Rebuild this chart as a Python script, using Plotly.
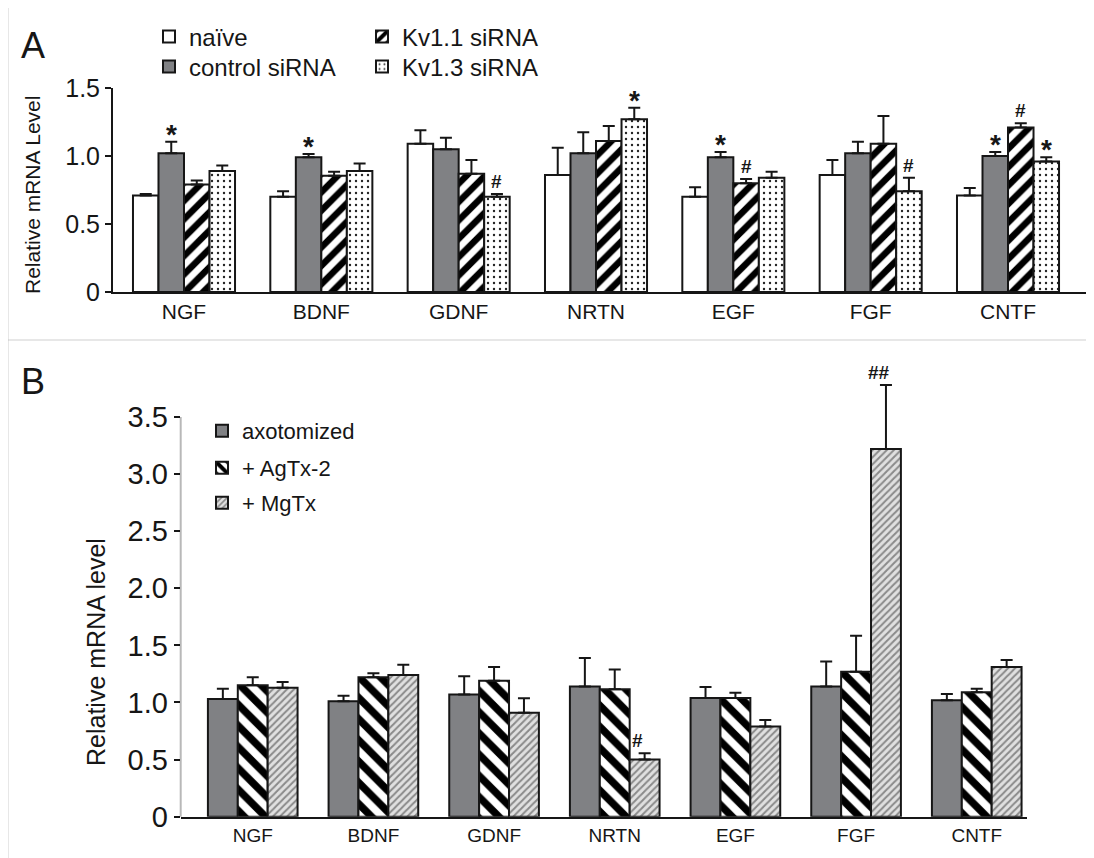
import plotly.graph_objects as go

W, H = 1094, 858
OFF = 8  # page body margin of the browser
FONT = "Liberation Sans, Arial, Helvetica, sans-serif"

categories = ["NGF", "BDNF", "GDNF", "NRTN", "EGF", "FGF", "CNTF"]

# Panel A values (mean) and upper error (SEM)
a_naive = [0.71, 0.70, 1.09, 0.86, 0.70, 0.86, 0.71]
a_naive_err = [0.01, 0.04, 0.10, 0.20, 0.07, 0.11, 0.055]
a_control = [1.02, 0.99, 1.05, 1.02, 0.99, 1.02, 1.00]
a_control_err = [0.085, 0.025, 0.085, 0.155, 0.04, 0.085, 0.03]
a_kv11 = [0.79, 0.855, 0.87, 1.11, 0.80, 1.09, 1.21]
a_kv11_err = [0.03, 0.03, 0.10, 0.11, 0.03, 0.205, 0.03]
a_kv13 = [0.89, 0.89, 0.70, 1.27, 0.84, 0.74, 0.96]
a_kv13_err = [0.04, 0.055, 0.02, 0.085, 0.045, 0.10, 0.03]

a_control_sig = ["*", "*", "", "", "*", "", "*"]
a_kv11_sig = ["", "", "", "", "#", "", "#"]
a_kv13_sig = ["", "", "#", "*", "", "#", "*"]

a_ticks = [0, 0.5, 1.0, 1.5]
a_ticktext = ["0", "0.5", "1.0", "1.5"]

# Panel B values
b_axot = [1.03, 1.01, 1.07, 1.14, 1.04, 1.14, 1.02]
b_axot_err = [0.09, 0.05, 0.16, 0.25, 0.095, 0.22, 0.055]
b_agtx = [1.15, 1.22, 1.19, 1.115, 1.04, 1.27, 1.09]
b_agtx_err = [0.07, 0.035, 0.12, 0.175, 0.046, 0.315, 0.03]
b_mgtx = [1.13, 1.24, 0.91, 0.50, 0.79, 3.22, 1.31]
b_mgtx_err = [0.05, 0.09, 0.127, 0.055, 0.056, 0.56, 0.062]

b_mgtx_sig = ["", "", "", "#", "", "##", ""]

b_ticks = [0, 0.5, 1.0, 1.5, 2.0, 2.5, 3.0, 3.5]
b_ticktext = ["0", "0.5", "1.0", "1.5", "2.0", "2.5", "3.0", "3.5"]

GRAY = "#808184"
INK = "#161616"
xpos = list(range(len(categories)))


def px(x):
    return (x - OFF) / W


def py(y):
    return 1 - (y - OFF) / H


def err(arr):
    return dict(type="data", symmetric=False, array=arr, arrayminus=[0] * len(arr),
                color=INK, thickness=2, width=6)


fig = go.Figure()

# ---- Panel A ----
a_series = [
    ("naïve", a_naive, a_naive_err, dict(color="white"), "legend"),
    ("control siRNA", a_control, a_control_err, dict(color=GRAY), "legend2"),
    ("Kv1.1 siRNA", a_kv11, a_kv11_err,
     dict(color="white", pattern=dict(shape="/", fgcolor="black", bgcolor="white", size=13,
                                      solidity=0.5, fgopacity=1)), "legend3"),
    ("Kv1.3 siRNA", a_kv13, a_kv13_err,
     dict(color="white", pattern=dict(shape=".", fgcolor="#222", bgcolor="white", size=6,
                                      solidity=0.12, fgopacity=1)), "legend4"),
]
for name, vals, e, mk, lg in a_series:
    mk = dict(mk)
    mk["line"] = dict(color=INK, width=2)
    fig.add_trace(go.Bar(x=xpos, y=vals, name=name, marker=mk, error_y=err(e),
                         xaxis="x", yaxis="y", legend=lg, showlegend=True))

# ---- Panel B ----
b_series = [
    ("axotomized", b_axot, b_axot_err, dict(color=GRAY), "legend5"),
    ("+ AgTx-2", b_agtx, b_agtx_err,
     dict(color="white", pattern=dict(shape="\\", fgcolor="black", bgcolor="white", size=15,
                                      solidity=0.5, fgopacity=1)), "legend6"),
    ("+ MgTx", b_mgtx, b_mgtx_err,
     dict(color="#d4d4d4", pattern=dict(shape="/", fgcolor="#8a8a8a", bgcolor="#e0e0e0", size=5,
                                        solidity=0.4, fgopacity=1)), "legend7"),
]
for name, vals, e, mk, lg in b_series:
    mk = dict(mk)
    mk["line"] = dict(color=INK, width=2)
    fig.add_trace(go.Bar(x=xpos, y=vals, name=name, marker=mk, error_y=err(e),
                         xaxis="x2", yaxis="y2", legend=lg, offsetgroup=name,
                         showlegend=True))

A_GAP = 0.257
B_GAP = 0.437

annotations = []


def add_sigs(vals, errs, sigs, k, n, gap, xr, yr):
    bw = (1 - gap) / n
    for j, s in enumerate(sigs):
        if s:
            star = s == "*"
            annotations.append(dict(
                x=j + (k - (n - 1) / 2) * bw, y=vals[j] + errs[j], xref=xr, yref=yr,
                text="<b>%s</b>" % s, showarrow=False, xanchor="center", yanchor="bottom",
                yshift=-10 if star else 0,
                font=dict(family=FONT, size=28 if star else 19, color=INK)))


add_sigs(a_control, a_control_err, a_control_sig, 1, 4, A_GAP, "x", "y")
add_sigs(a_kv11, a_kv11_err, a_kv11_sig, 2, 4, A_GAP, "x", "y")
add_sigs(a_kv13, a_kv13_err, a_kv13_sig, 3, 4, A_GAP, "x", "y")
add_sigs(b_mgtx, b_mgtx_err, b_mgtx_sig, 2, 3, B_GAP, "x2", "y2")

annotations += [
    dict(x=px(33), y=py(45), xref="paper", yref="paper", text="A", showarrow=False,
         xanchor="center", yanchor="middle", font=dict(family=FONT, size=36, color=INK)),
    dict(x=px(33), y=py(381), xref="paper", yref="paper", text="B", showarrow=False,
         xanchor="center", yanchor="middle", font=dict(family=FONT, size=36, color=INK)),
    dict(x=px(32), y=py(195), xref="paper", yref="paper", text="Relative mRNA Level",
         textangle=-90, showarrow=False, xanchor="center", yanchor="middle",
         font=dict(family=FONT, size=21, color=INK)),
    dict(x=px(96), y=py(652), xref="paper", yref="paper", text="Relative mRNA level",
         textangle=-90, showarrow=False, xanchor="center", yanchor="middle",
         font=dict(family=FONT, size=25, color=INK)),
]

shapes = [
    dict(type="line", xref="paper", yref="paper", x0=px(8), x1=px(1100), y0=py(6), y1=py(6),
         line=dict(color="#b3b3b3", width=2)),
    dict(type="line", xref="paper", yref="paper", x0=px(8), x1=px(8), y0=py(6), y1=py(866),
         line=dict(color="#b3b3b3", width=2)),
    dict(type="line", xref="paper", yref="paper", x0=px(8), x1=px(1100), y0=py(340), y1=py(340),
         line=dict(color="#b3b3b3", width=2)),
    # panel B y axis line (only up to 3.5)
    dict(type="line", xref="paper", yref="y2", x0=px(180.7), x1=px(180.7), y0=-0.06, y1=3.5,
         line=dict(color=INK, width=2)),
]


def leg(xpx, ypx, size):
    return dict(x=px(xpx), y=py(ypx), xanchor="left", yanchor="middle",
                bgcolor="rgba(0,0,0,0)", borderwidth=0,
                font=dict(family=FONT, size=size, color=INK))


fig.update_layout(
    width=W, height=H,
    template="simple_white",
    showlegend=True,
    margin=dict(l=0, r=0, t=0, b=0, autoexpand=False),
    paper_bgcolor="white", plot_bgcolor="white",
    barmode="group",
    bargap=A_GAP,
    font=dict(family=FONT, color=INK),
    xaxis=dict(domain=[px(113), px(1090)], range=[-0.517, 6.597], tickvals=xpos,
               ticktext=categories, showline=True, linecolor=INK, linewidth=2,
               ticks="", showgrid=False, zeroline=False, anchor="y", automargin=False,
               tickfont=dict(family=FONT, size=21, color=INK)),
    yaxis=dict(domain=[py(292), py(88)], range=[0, 1.5], tickvals=a_ticks, ticktext=a_ticktext,
               showline=True, linecolor=INK, linewidth=2, ticks="outside", ticklen=6,
               tickwidth=2, tickcolor=INK, showgrid=False, zeroline=False, anchor="x",
               automargin=False, tickfont=dict(family=FONT, size=25, color=INK)),
    xaxis2=dict(domain=[px(180.7), px(1026.7)], range=[-0.597, 6.414], tickvals=xpos,
                ticktext=categories, showline=True, linecolor=INK, linewidth=2,
                ticks="", showgrid=False, zeroline=False, anchor="y2", automargin=False,
                tickfont=dict(family=FONT, size=19, color=INK)),
    yaxis2=dict(domain=[py(816.7), py(371.3)], range=[0, 3.9], tickvals=b_ticks,
                ticktext=b_ticktext, showline=False, ticks="outside", ticklen=6, tickwidth=2,
                tickcolor=INK, showgrid=False, zeroline=False, anchor="x2", automargin=False,
                tickfont=dict(family=FONT, size=29, color=INK)),
    legend=leg(149, 37, 24),
    legend2=leg(149, 67, 24),
    legend3=leg(362, 37, 24),
    legend4=leg(362, 67, 24),
    legend5=leg(202, 431, 22),
    legend6=leg(202, 468, 22),
    legend7=leg(202, 503, 22),
    annotations=annotations,
    shapes=shapes,
)

fig.write_html("out.html")
